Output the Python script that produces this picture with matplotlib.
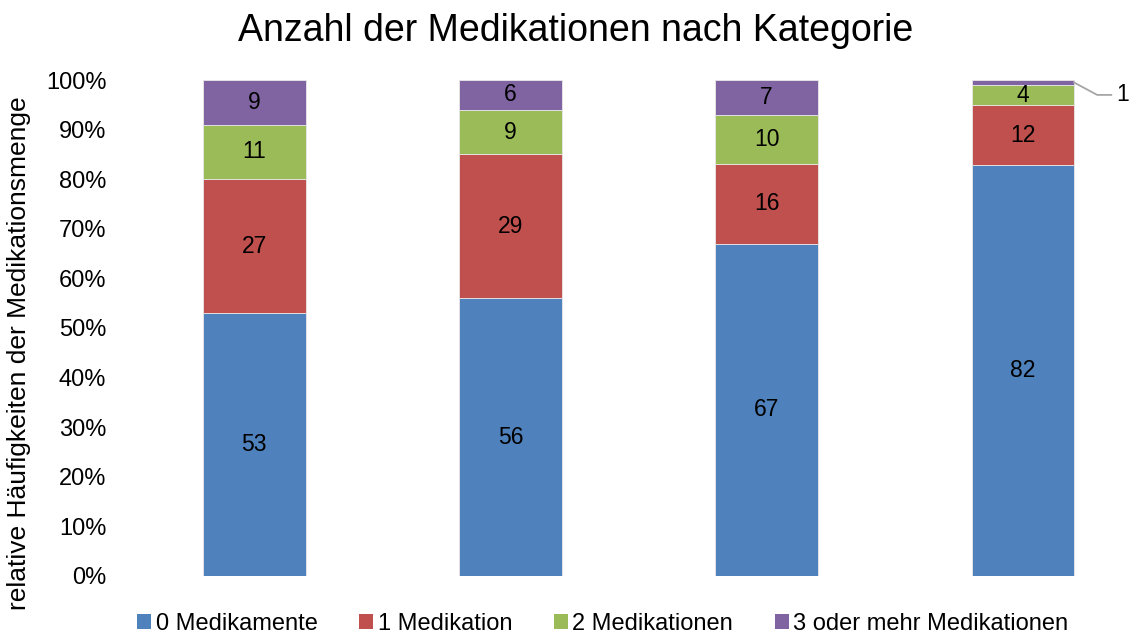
import numpy as np
import matplotlib.pyplot as plt
from matplotlib.patches import Patch

plt.rcParams['font.family'] = ['Liberation Sans', 'DejaVu Sans']

# Data: counts per category (stacked to 100%)
categories = ['', '', '', '']
series_names = ['0 Medikamente', '1 Medikation', '2 Medikationen', '3 oder mehr Medikationen']
med0 = [53, 56, 67, 82]
med1 = [27, 29, 16, 12]
med2 = [11, 9, 10, 4]
med3 = [9, 6, 7, 1]
colors = ['#4F81BD', '#C0504D', '#9BBB59', '#8064A2']

series = np.array([med0, med1, med2, med3], dtype=float)
totals = series.sum(axis=0)
shares = series / totals

fig = plt.figure(figsize=(11.35, 6.37), dpi=100)
ax = fig.add_axes([0.101, 0.0958, 0.895, 0.7786])

x = np.arange(len(categories))
width = 0.4
bottom = np.zeros(len(categories))
for i, (vals, raw) in enumerate(zip(shares, series)):
    ax.bar(x, vals, width, bottom=bottom, color=colors[i],
           edgecolor='#E8E8E8', linewidth=0.6)
    for j in range(len(x)):
        if raw[j] >= 2:
            ax.text(x[j], bottom[j] + vals[j] / 2, f'{int(raw[j])}',
                    ha='center', va='center', fontsize=16.5)
    bottom += vals

# outside label with leader line for the small last segment
last = len(x) - 1
x0 = x[last] + width / 2
y0 = bottom[last] - shares[3][last] / 2
ax.plot([x0, x0 + 0.09, x0 + 0.145], [y0, y0 - 0.025, y0 - 0.025],
        color='#A6A6A6', lw=1.3, clip_on=False)
ax.text(x0 + 0.165, y0 - 0.025, f'{int(med3[last])}', ha='left', va='center',
        fontsize=16.5, clip_on=False)

ax.set_xlim(-0.545, 3.42)
ax.set_ylim(0, 1)
ax.set_xticks([])
ticks = np.arange(0, 1.01, 0.1)
ax.set_yticks(ticks)
ax.set_yticklabels([f'{int(round(v * 100))}%' for v in ticks], fontsize=17)
ax.tick_params(axis='y', length=0, pad=6)
for s in ax.spines.values():
    s.set_visible(False)

ax.set_ylabel('relative Häufigkeiten der Medikationsmenge', fontsize=19, labelpad=6)
ax.yaxis.set_label_coords(-0.082, 0.45)
fig.text(0.507, 0.952, 'Anzahl der Medikationen nach Kategorie', fontsize=27,
         ha='center', va='center')

handles = [Patch(facecolor=c, edgecolor='none') for c in colors]
fig.legend(handles, series_names, loc='lower center', ncol=4, frameon=False,
           fontsize=17, bbox_to_anchor=(0.531, -0.03), handlelength=0.6,
           handleheight=0.6, handletextpad=0.2, columnspacing=1.75)

fig.savefig('out.png', dpi=100)
